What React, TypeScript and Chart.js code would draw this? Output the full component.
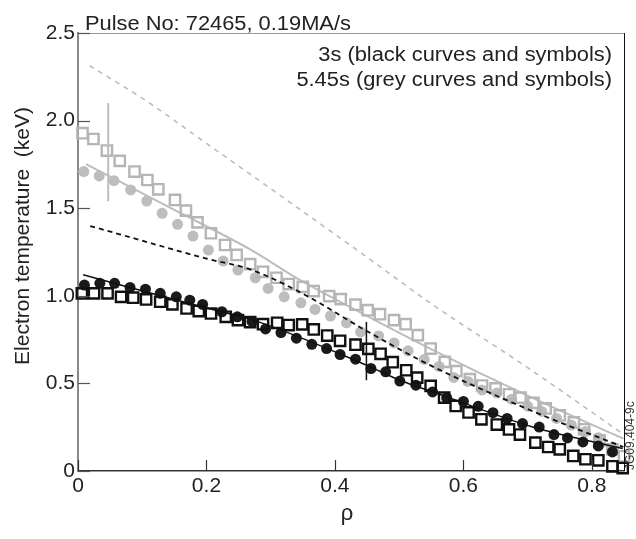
import React, { useEffect, useRef } from "react";
import { Chart, registerables } from "chart.js";

Chart.register(...registerables);

const FONT = '"Liberation Sans", Arial, Helvetica, sans-serif';

// ---- axis ticks ----
const rhoTicks = [0, 0.2, 0.4, 0.6, 0.8];
const teTicks = [0, 0.5, 1.0, 1.5, 2.0, 2.5];

// ---- 5.45 s (grey) open squares ----
const greySqRho = [0.007, 0.024, 0.045, 0.065, 0.088, 0.108, 0.125, 0.151, 0.168, 0.186, 0.207, 0.229, 0.247, 0.268, 0.288, 0.309, 0.328, 0.350, 0.367, 0.391, 0.409, 0.432, 0.451, 0.470, 0.492, 0.510, 0.529, 0.549, 0.571, 0.589, 0.610, 0.629, 0.650, 0.671, 0.689, 0.709, 0.728, 0.750, 0.772, 0.788, 0.812, 0.832, 0.850];
const greySqTe = [1.928, 1.895, 1.829, 1.770, 1.709, 1.661, 1.608, 1.547, 1.486, 1.419, 1.357, 1.290, 1.233, 1.181, 1.137, 1.103, 1.067, 1.051, 1.027, 0.998, 0.981, 0.949, 0.918, 0.895, 0.861, 0.838, 0.775, 0.699, 0.623, 0.570, 0.524, 0.488, 0.471, 0.438, 0.419, 0.389, 0.357, 0.317, 0.277, 0.238, 0.175, 0.124, 0.084];

// ---- 5.45 s (grey) filled circles ----
const greyCiRho = [0.009, 0.033, 0.056, 0.082, 0.107, 0.131, 0.155, 0.179, 0.203, 0.226, 0.249, 0.276, 0.296, 0.321, 0.347, 0.369, 0.393, 0.418, 0.440, 0.468, 0.492, 0.514, 0.539, 0.562, 0.585, 0.607, 0.629, 0.652, 0.675, 0.700, 0.722, 0.745, 0.768, 0.790, 0.810, 0.833];
const greyCiTe = [1.709, 1.684, 1.657, 1.604, 1.541, 1.471, 1.408, 1.341, 1.261, 1.198, 1.147, 1.103, 1.042, 0.994, 0.960, 0.922, 0.884, 0.846, 0.794, 0.771, 0.731, 0.686, 0.637, 0.597, 0.534, 0.511, 0.463, 0.445, 0.410, 0.370, 0.340, 0.300, 0.262, 0.225, 0.190, 0.135];

// ---- 3 s (black) open squares ----
const blackSqRho = [0.006, 0.025, 0.046, 0.067, 0.086, 0.106, 0.128, 0.147, 0.169, 0.188, 0.207, 0.230, 0.249, 0.268, 0.288, 0.310, 0.328, 0.349, 0.367, 0.388, 0.408, 0.432, 0.452, 0.471, 0.490, 0.511, 0.528, 0.549, 0.570, 0.588, 0.608, 0.628, 0.652, 0.671, 0.688, 0.712, 0.732, 0.750, 0.771, 0.790, 0.810, 0.832, 0.848];
const blackSqTe = [1.014, 1.014, 1.014, 0.994, 0.989, 0.979, 0.966, 0.951, 0.928, 0.913, 0.899, 0.880, 0.861, 0.850, 0.838, 0.846, 0.833, 0.837, 0.808, 0.773, 0.743, 0.721, 0.697, 0.669, 0.621, 0.575, 0.533, 0.486, 0.419, 0.371, 0.334, 0.295, 0.265, 0.237, 0.208, 0.162, 0.137, 0.124, 0.086, 0.067, 0.061, 0.027, 0.017];

// ---- 3 s (black) filled circles ----
const blackCiRho = [0.010, 0.034, 0.057, 0.081, 0.105, 0.128, 0.153, 0.174, 0.194, 0.224, 0.248, 0.271, 0.292, 0.316, 0.340, 0.364, 0.387, 0.408, 0.432, 0.456, 0.479, 0.501, 0.526, 0.552, 0.574, 0.600, 0.623, 0.646, 0.668, 0.692, 0.718, 0.741, 0.762, 0.786, 0.810, 0.832];
const blackCiTe = [1.061, 1.071, 1.071, 1.048, 1.038, 1.014, 0.994, 0.975, 0.951, 0.909, 0.880, 0.854, 0.811, 0.790, 0.758, 0.723, 0.699, 0.665, 0.638, 0.585, 0.566, 0.513, 0.490, 0.451, 0.417, 0.397, 0.369, 0.333, 0.300, 0.271, 0.251, 0.208, 0.189, 0.166, 0.143, 0.109];

// ---- curves ----
const blackSolidRho = [0.008, 0.2, 0.273, 0.449, 0.501, 0.553, 0.708, 0.848];
const blackSolidTe = [1.12, 0.93, 0.861, 0.604, 0.518, 0.451, 0.251, 0.128];

const blackDashRho = [0.019, 0.065, 0.2, 0.268, 0.349, 0.449, 0.548, 0.704, 0.849];
const blackDashTe = [1.398, 1.351, 1.212, 1.151, 1.014, 0.80, 0.604, 0.347, 0.137];

const greySolidRho = [0.0125, 0.15, 0.268, 0.346, 0.423, 0.548, 0.704, 0.849];
const greySolidTe = [1.751, 1.49, 1.265, 1.089, 0.937, 0.699, 0.423, 0.185];

const greyDashRho = [0.018, 0.104, 0.2, 0.299, 0.45, 0.548, 0.704, 0.849];
const greyDashTe = [2.313, 2.118, 1.87, 1.614, 1.22, 0.96, 0.58, 0.21];

// ---- error bars ----
const greyErrRho = [0.047, 0.047];
const greyErrTe = [1.54, 2.10];
const blackErrRho = [0.449, 0.449];
const blackErrTe = [0.518, 0.851];

const titleText = "Pulse No: 72465, 0.19MA/s";
const legendLines = ["3s (black curves and symbols)", "5.45s (grey curves and symbols)"];
const yTitle = "Electron temperature  (keV)";
const xTitle = "ρ";
const idText = "JG09.404-9c";

const GREY = "#bdbdbd";
const BLACK = "#111111";

const pts = (xs: number[], ys: number[]) => xs.map((x, i) => ({ x, y: ys[i] }));

const decorPlugin = {
  id: "decor",
  afterDraw(chart: any) {
    const { ctx, chartArea, scales } = chart;
    const { left, right, top, bottom } = chartArea;
    ctx.save();
    // top border
    ctx.strokeStyle = "#9a9a9a";
    ctx.lineWidth = 1;
    ctx.beginPath();
    ctx.moveTo(left, top + 0.5);
    ctx.lineTo(right, top + 0.5);
    ctx.stroke();
    // right border
    ctx.strokeStyle = "#111";
    ctx.beginPath();
    ctx.moveTo(right + 0.5, top);
    ctx.lineTo(right + 0.5, bottom);
    ctx.stroke();
    // inward tick marks
    ctx.lineWidth = 1.2;
    ctx.strokeStyle = "#333";
    scales.x.ticks.forEach((t: any) => {
      const px = Math.round(scales.x.getPixelForValue(t.value)) + 0.5;
      ctx.beginPath();
      ctx.moveTo(px, bottom);
      ctx.lineTo(px, bottom - 11);
      ctx.stroke();
    });
    ctx.strokeStyle = "#555";
    scales.y.ticks.forEach((t: any) => {
      const py = Math.round(scales.y.getPixelForValue(t.value)) + 0.5;
      ctx.beginPath();
      ctx.moveTo(left, py);
      ctx.lineTo(left + 12, py);
      ctx.stroke();
    });
    ctx.fillStyle = "#222";
    // title
    ctx.font = `19.5px ${FONT}`;
    ctx.textBaseline = "alphabetic";
    ctx.textAlign = "left";
    ctx.save();
    ctx.translate(85, 30);
    ctx.scale(1.12, 1);
    ctx.fillText(titleText, 0, 0);
    ctx.restore();
    // legend text
    ctx.textAlign = "right";
    [61, 86].forEach((by, i) => {
      ctx.save();
      ctx.translate(612, by);
      ctx.scale(1.12, 1);
      ctx.fillText(legendLines[i], 0, 0);
      ctx.restore();
    });
    // y title
    ctx.save();
    ctx.translate(23, 236);
    ctx.rotate(-Math.PI / 2);
    ctx.textAlign = "center";
    ctx.textBaseline = "middle";
    ctx.font = `21px ${FONT}`;
    ctx.fillText(yTitle, 0, 0);
    ctx.restore();
    // x title
    ctx.font = `22px ${FONT}`;
    ctx.textAlign = "center";
    ctx.textBaseline = "alphabetic";
    ctx.fillText(xTitle, 347, 520);
    // figure id
    ctx.save();
    ctx.translate(634, 470);
    ctx.rotate(-Math.PI / 2);
    ctx.textAlign = "left";
    ctx.font = `12px ${FONT}`;
    ctx.fillStyle = "#333";
    ctx.fillText(idText, 0, 0);
    ctx.restore();
    ctx.restore();
  },
};

export default function App() {
  const ref = useRef<HTMLCanvasElement | null>(null);
  useEffect(() => {
    if (!ref.current) return;
    const lineDs = (xs: number[], ys: number[], color: string, width: number, dash: number[], order: number, tension = 0.2) => ({
      data: pts(xs, ys),
      showLine: true,
      borderColor: color,
      borderWidth: width,
      borderDash: dash,
      pointRadius: 0,
      tension,
      cubicInterpolationMode: "monotone",
      fill: false,
      order,
      clip: false,
    });
    const markerDs = (xs: number[], ys: number[], style: string, color: string, filled: boolean, radius: number, order: number) => ({
      data: pts(xs, ys),
      showLine: false,
      pointStyle: style,
      pointRadius: radius,
      pointBackgroundColor: filled ? color : "rgba(0,0,0,0)",
      pointBorderColor: color,
      pointBorderWidth: filled ? 0 : 2.4,
      order,
      clip: false,
    });
    const chart = new Chart(ref.current, {
      type: "scatter",
      data: {
        datasets: [
          lineDs(greyDashRho, greyDashTe, GREY, 1.6, [5, 5], 12, 0),
          lineDs(greySolidRho, greySolidTe, GREY, 2, [], 11),
          markerDs(greyCiRho, greyCiTe, "circle", GREY, true, 5.5, 10),
          markerDs(greySqRho, greySqTe, "rect", "#b5b5b5", false, 7.3, 9),
          lineDs(greyErrRho, greyErrTe, GREY, 2, [], 8, 0),
          markerDs(blackCiRho, blackCiTe, "circle", "#1a1a1a", true, 5.5, 7),
          markerDs(blackSqRho, blackSqTe, "rect", BLACK, false, 7.3, 6),
          lineDs(blackDashRho, blackDashTe, BLACK, 1.8, [5, 4], 5),
          lineDs(blackSolidRho, blackSolidTe, BLACK, 1.5, [], 4),
          lineDs(blackErrRho, blackErrTe, BLACK, 1.5, [], 3, 0),
        ] as any,
      },
      options: {
        animation: false,
        responsive: false,
        events: [],
        layout: { padding: { top: 33, right: 12, left: 0, bottom: 0 } },
        plugins: { legend: { display: false }, tooltip: { enabled: false }, title: { display: false } },
        scales: {
          x: {
            type: "linear",
            min: 0,
            max: 0.85,
            afterBuildTicks: (scale: any) => {
              scale.ticks = rhoTicks.map((v) => ({ value: v }));
            },
            afterFit: (scale: any) => {
              scale.height = 68;
            },
            grid: { display: false, drawTicks: false },
            border: { display: true, color: "#333", width: 1.5 },
            ticks: {
              padding: 3,
              color: "#222",
              font: { family: FONT, size: 21 },
              callback: (v: any) => (v === 0 ? "0" : Number(v).toFixed(1)),
            },
          },
          y: {
            type: "linear",
            min: 0,
            max: 2.5,
            afterBuildTicks: (scale: any) => {
              scale.ticks = teTicks.map((v) => ({ value: v }));
            },
            afterFit: (scale: any) => {
              scale.width = 78;
            },
            grid: { display: false, drawTicks: false },
            border: { display: true, color: "#888", width: 2 },
            ticks: {
              padding: 3,
              color: "#222",
              font: { family: FONT, size: 21 },
              callback: (v: any) => (v === 0 ? "0" : Number(v).toFixed(1)),
            },
          },
        },
      },
      plugins: [decorPlugin],
    } as any);
    return () => chart.destroy();
  }, []);
  return (
    <div style={{ position: "absolute", left: 0, top: 0, width: 636, height: 539, background: "#fff" }}>
      <canvas ref={ref} width={636} height={539} style={{ display: "block" }} />
    </div>
  );
}
